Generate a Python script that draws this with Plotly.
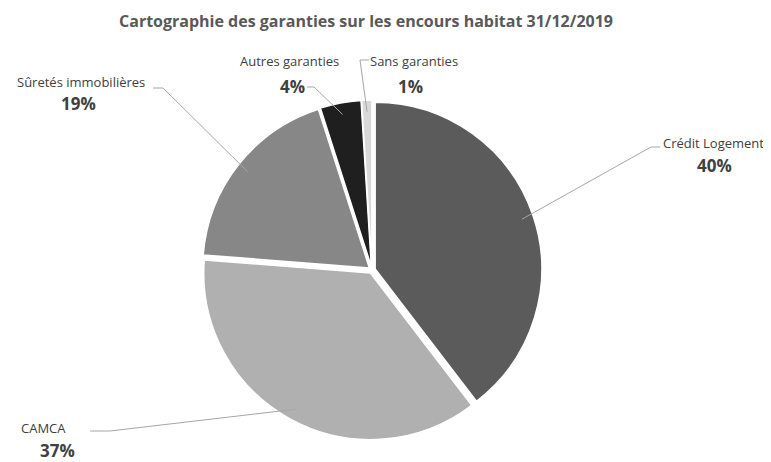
import math
import plotly.graph_objects as go

categories = ["Crédit Logement", "CAMCA", "Sûretés immobilières", "Autres garanties", "Sans garanties"]
values = [40, 37, 19, 4, 1]
pct_labels = ["40%", "37%", "19%", "4%", "1%"]
colors = ["#5b5b5b", "#b0b0b0", "#878787", "#1f1f1f", "#d9d9d9"]

# page body has an 8px margin: size the figure so it fits the 771x462 window
OFF = 8
W, H = 771 - OFF, 462 - OFF
# pie placement (window pixels)
CX, CY, RAD = 372, 270, 170
PULL = 0.02

# label placement (window pixels): name centre, pct centre, leader start, elbow
label_pos = [
    dict(name=(713, 143), pct=(714, 165), start=(660, 147), elbow=(651, 147)),
    dict(name=(43, 428), pct=(57, 450), start=(90, 431), elbow=(110, 431)),
    dict(name=(81, 82), pct=(78, 104), start=(153, 88), elbow=(163, 88)),
    dict(name=(289, 61), pct=(292, 86), start=(307, 87), elbow=(314, 87)),
    dict(name=(414, 61), pct=(411, 86), start=(369, 60), elbow=(360, 60)),
]

def px(x):
    return (x - OFF) / W

def py(y):
    return 1 - (y - OFF) / H

fig = go.Figure(go.Pie(
    labels=categories,
    values=values,
    textinfo="none",
    sort=False,
    direction="clockwise",
    rotation=0,
    pull=[PULL] * len(values),
    marker=dict(colors=colors, line=dict(color="#ffffff", width=1.5)),
    showlegend=False,
    hoverinfo="label+percent",
    domain=dict(x=[px(CX - RAD), px(CX + RAD)], y=[py(CY + RAD), py(CY - RAD)]),
))

# leader lines from labels to slice mid-angles (computed from values)
total = sum(values)
r_eff = RAD / (1 + PULL)
cum = 0
annotations = []
shapes = []
for i, v in enumerate(values):
    mid = (cum + v / 2) / total * 2 * math.pi
    cum += v
    off = PULL * r_eff
    rr = 0.93 * r_eff + off
    tx = CX + rr * math.sin(mid)
    ty = CY - rr * math.cos(mid)
    lp = label_pos[i]
    sx, sy = lp["start"]
    ex, ey = lp["elbow"]
    shapes.append(dict(
        type="path", xref="paper", yref="paper",
        path=f"M {px(sx)} {py(sy)} L {px(ex)} {py(ey)} L {px(tx)} {py(ty)}",
        line=dict(color="#a6a6a6", width=1),
    ))
    nx, ny = lp["name"]
    qx, qy = lp["pct"]
    annotations.append(dict(
        x=px(nx), y=py(ny), xref="paper", yref="paper", showarrow=False,
        text=categories[i], xanchor="center", yanchor="middle",
        font=dict(family="Open Sans, sans-serif", size=13, color="#404040"),
    ))
    annotations.append(dict(
        x=px(qx), y=py(qy), xref="paper", yref="paper", showarrow=False,
        text=f"<b>{pct_labels[i]}</b>", xanchor="center", yanchor="middle",
        font=dict(family="Open Sans, sans-serif", size=17, color="#404040"),
    ))

fig.update_layout(
    width=W, height=H,
    title=dict(text="<b>Cartographie des garanties sur les encours habitat 31/12/2019</b>",
               x=px(366), xanchor="center", y=py(21), yanchor="middle",
               font=dict(family="Open Sans, sans-serif", size=16, color="#595959")),
    margin=dict(l=0, r=0, t=0, b=0),
    paper_bgcolor="white",
    plot_bgcolor="white",
    shapes=shapes,
    annotations=annotations,
)

fig.write_html("out.html")
